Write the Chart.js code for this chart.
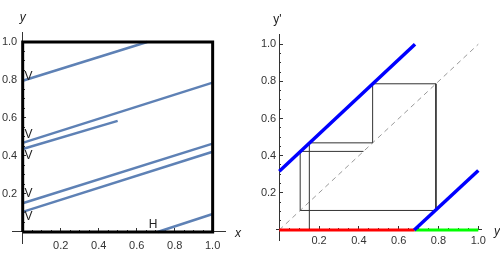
<!DOCTYPE html>
<html>
<head>
<meta charset="utf-8">
<script src="https://cdn.jsdelivr.net/npm/chart.js@4.4.1/dist/chart.umd.min.js"></script>
<style>
  html, body { margin: 0; padding: 0; background: #fff; }
  #wrap { position: relative; width: 500px; height: 261px; }
  canvas { position: absolute; top: 0; }
</style>
</head>
<body>
<div id="wrap">
  <canvas id="left-chart" width="250" height="261" style="left:0"></canvas>
  <canvas id="right-chart" width="250" height="261" style="left:250px"></canvas>
</div>
<script>

// DATA ------------------------------------------------------

// left panel: blue strips in the (x, y) square
const stripX0 = [0, 0, 0, 0, 0, 0.71];
const stripY0 = [0.796, 0.469, 0.437, 0.151, 0.106, 0];
const stripX1 = [0.655, 1, 0.5, 1, 1, 1];
const stripY1 = [1, 0.786, 0.585, 0.465, 0.422, 0.095];

const frameX = [0, 1, 1, 0, 0];
const frameY = [0, 0, 1, 1, 0];

const vLabelY = [0.818, 0.51, 0.40, 0.20, 0.08];
const hLabel = [0.687, 0.037];

// right panel: return map y -> y'
const branchAX = [0, 0.682];
const branchAY = [0.316, 1];
const branchBX = [0.678, 1];
const branchBY = [0, 0.32];
const splitAt = 0.68;
const orbit = [0.151, 0.469, 0.787, 0.105, 0.423];

const majorTicks = [0.2, 0.4, 0.6, 0.8, 1.0];
const minorTicks = [0.05, 0.1, 0.15, 0.25, 0.3, 0.35, 0.45, 0.5, 0.55, 0.65, 0.7, 0.75, 0.85, 0.9, 0.95];

const tickFont = { family: '"Liberation Sans", Arial, sans-serif', size: 11 };
const inkColor = '#333';

// SCALES ------------------------------------------------------

// y labels sit right-aligned on the axis when it is placed by value,
// so a trailing space keeps them off the line
function axisScale(axis, other, range, vals, len, labels, pad, gap) {
    return {
        type: 'linear',
        axis: axis,
        position: { [other]: 0 },
        min: range[0],
        max: range[1],
        afterBuildTicks: s => { s.ticks = vals.map(v => ({ value: v })); },
        afterFit: s => { if (axis === 'x') s.height = 0; else s.width = 0; },
        border: { display: labels, color: inkColor, width: 1 },
        grid: { drawOnChartArea: false, drawTicks: true, tickLength: len, tickColor: inkColor, tickWidth: 1 },
        ticks: {
            display: labels,
            autoSkip: false,
            maxRotation: 0,
            padding: pad,
            color: inkColor,
            font: tickFont,
            callback: v => v.toFixed(1) + (gap || '')
        }
    };
}

function panelScales(xr, yr, xPad, yGap) {
    return {
        x: axisScale('x', 'y', xr, majorTicks, -4, true, xPad),
        y: axisScale('y', 'x', yr, majorTicks, -4, true, 0, yGap),
        x2: axisScale('x', 'y', xr, minorTicks, -2, false, 0),
        y2: axisScale('y', 'x', yr, minorTicks, -2, false, 0)
    };
}

function seg(xs, ys) {
    return xs.map((x, i) => ({ x: x, y: ys[i] }));
}

function lineSet(points, color, width, extra) {
    return Object.assign({
        data: points,
        showLine: true,
        borderColor: color,
        borderWidth: width,
        pointRadius: 0,
        fill: false,
        tension: 0
    }, extra || {});
}

// LEFT PANEL ------------------------------------------------------

const leftSets = [lineSet(seg(frameX, frameY), '#000', 3, { borderJoinStyle: 'miter' })];
stripX0.forEach((x, i) => {
    leftSets.push(lineSet(seg([x, stripX1[i]], [stripY0[i], stripY1[i]]), '#5E81B5', 2.5));
});

const leftText = {
    id: 'leftText',
    afterDraw(chart) {
        const { ctx, scales: { x, y } } = chart;
        ctx.save();
        ctx.fillStyle = '#222';
        ctx.font = '12px "Liberation Sans", Arial, sans-serif';
        ctx.textAlign = 'center';
        ctx.textBaseline = 'middle';
        vLabelY.forEach(v => ctx.fillText('V', x.getPixelForValue(0.03), y.getPixelForValue(v)));
        ctx.fillText('H', x.getPixelForValue(hLabel[0]), y.getPixelForValue(hLabel[1]));
        ctx.font = 'italic 12px "Liberation Sans", Arial, sans-serif';
        ctx.fillText('y', x.getPixelForValue(0), y.top - 14);
        ctx.fillText('x', x.right + 13, y.getPixelForValue(0) + 2);
        ctx.restore();
    }
};

new Chart(document.getElementById('left-chart'), {
    type: 'scatter',
    data: { datasets: leftSets },
    options: {
        responsive: false,
        animation: false,
        devicePixelRatio: 1,
        layout: { padding: { left: 12, right: 25, top: 32, bottom: 18 } },
        scales: panelScales([-0.0563, 1.065], [-0.0579, 1.0526], 11, '\u2002'),
        plugins: { legend: { display: false }, tooltip: { enabled: false } }
    },
    plugins: [leftText]
});

// RIGHT PANEL ------------------------------------------------------

const cobweb = [{ x: orbit[0], y: 0 }];
for (let i = 0; i < orbit.length - 1; i++) {
    cobweb.push({ x: orbit[i], y: orbit[i + 1] });
    cobweb.push({ x: orbit[i + 1], y: orbit[i + 1] });
}

const rightSets = [
    lineSet(seg(branchAX, branchAY), '#0000FF', 3.5),
    lineSet(seg(branchBX, branchBY), '#0000FF', 3.5),
    lineSet(seg([0, splitAt], [0, 0]), '#FF0000', 3),
    lineSet(seg([splitAt, 1], [0, 0]), '#00FF00', 3),
    lineSet(cobweb, '#333', 1),
    lineSet(seg([0, 1], [0, 1]), '#999', 1, { borderDash: [5, 4] })
];

const rightText = {
    id: 'rightText',
    afterDraw(chart) {
        const { ctx, scales: { x, y } } = chart;
        ctx.save();
        ctx.fillStyle = '#222';
        ctx.textAlign = 'center';
        ctx.textBaseline = 'middle';
        ctx.font = '12px "Liberation Sans", Arial, sans-serif';
        ctx.fillText("y'", x.getPixelForValue(0) - 2, y.top - 14);
        ctx.font = 'italic 12px "Liberation Sans", Arial, sans-serif';
        ctx.fillText('y', x.right + 16, y.getPixelForValue(0) + 2);
        ctx.restore();
    }
};

new Chart(document.getElementById('right-chart'), {
    type: 'scatter',
    data: { datasets: rightSets },
    options: {
        responsive: false,
        animation: false,
        devicePixelRatio: 1,
        layout: { padding: { left: 26.9, right: 18.9, top: 34, bottom: 21 } },
        scales: panelScales([-0.012, 1.014], [-0.054, 1.055], 8, ' '),
        plugins: { legend: { display: false }, tooltip: { enabled: false } }
    },
    plugins: [rightText]
});
</script>
</body>
</html>
